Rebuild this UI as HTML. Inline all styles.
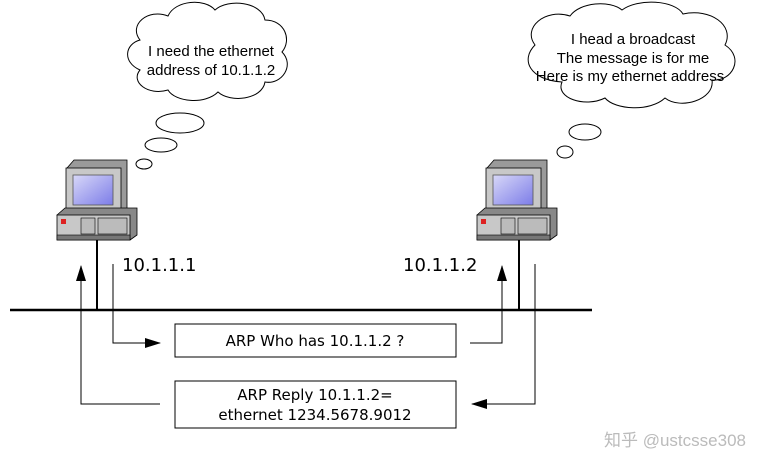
<!DOCTYPE html>
<html><head><meta charset="utf-8"><style>
body{margin:0;background:#fff;width:758px;height:473px;overflow:hidden}
svg{display:block}
text{font-family:"DejaVu Sans","Liberation Sans",sans-serif;fill:#000}
.c{font-family:"Liberation Sans",sans-serif}
</style></head><body>
<svg width="758" height="473" viewBox="0 0 758 473">
<defs>
<linearGradient id="scr" x1="0" y1="0" x2="1" y2="1"><stop offset="0" stop-color="#d8d8f8"/><stop offset="1" stop-color="#7c7ce8"/></linearGradient>
<marker id="ah" markerWidth="16" markerHeight="10" refX="15" refY="5" orient="auto" markerUnits="userSpaceOnUse">
<path d="M0,0 L16,5 L0,10 z" fill="#000"/></marker>
<g id="pc">
<path d="M10,8 L17,0 L70,0 L70,50 L62,55 Z" fill="#9a9a9a" stroke="#000" stroke-width="0.8"/>
<rect x="9" y="8" width="55" height="46" fill="#c8c8c8" stroke="#000" stroke-width="0.8"/>
<rect x="16" y="15" width="40" height="30" fill="url(#scr)" stroke="#555" stroke-width="0.8"/>
<rect x="53" y="48" width="3" height="3" fill="#2c2"/>
<path d="M0,55 L8,48 L80,48 L80,75 L73,80 Z" fill="#888" stroke="#000" stroke-width="0.8"/>
<rect x="0" y="55" width="73" height="25" fill="#c8c8c8" stroke="#000" stroke-width="0.8"/>
<rect x="4" y="59" width="5" height="5" fill="#d22"/>
<rect x="24" y="58" width="14" height="16" fill="#bbb" stroke="#000" stroke-width="0.6"/>
<rect x="41" y="58" width="29" height="16" fill="#bbb" stroke="#000" stroke-width="0.6"/>
<rect x="0" y="75" width="73" height="5" fill="#777" stroke="#000" stroke-width="0.6"/>
</g>
</defs>

<!-- left cloud -->
<path d="M140,40 C128,25 148,8 168,16 C175,0 205,-2 215,10 C228,-2 262,2 265,20 C285,20 292,40 282,52 C295,65 282,85 265,82 C262,100 230,103 218,92 C205,105 175,102 168,90 C148,96 130,82 140,70 C122,62 125,44 140,40 Z" fill="#fff" stroke="#000" stroke-width="1"/>
<text class="c" x="211" y="56" font-size="15" text-anchor="middle">I need the ethernet</text>
<text class="c" x="211" y="75" font-size="15" text-anchor="middle">address of 10.1.1.2</text>
<ellipse cx="180" cy="123" rx="24" ry="10" fill="#fff" stroke="#000"/>
<ellipse cx="161" cy="145" rx="16" ry="7" fill="#fff" stroke="#000"/>
<ellipse cx="144" cy="164" rx="8" ry="5" fill="#fff" stroke="#000"/>

<!-- right cloud -->
<path d="M535,45 C522,28 545,8 570,16 C580,2 610,0 622,10 C638,-2 675,0 683,14 C710,8 735,25 725,45 C745,58 732,82 712,80 C715,100 680,110 665,98 C650,112 615,110 605,98 C585,108 555,98 562,82 C530,80 520,60 535,45 Z" fill="#fff" stroke="#000" stroke-width="1"/>
<text class="c" x="633" y="44" font-size="15" text-anchor="middle">I head a broadcast</text>
<text class="c" x="633" y="63" font-size="15" text-anchor="middle">The message is for me</text>
<text class="c" x="630" y="81" font-size="15" text-anchor="middle">Here is my ethernet address</text>
<ellipse cx="585" cy="132" rx="16" ry="8" fill="#fff" stroke="#000"/>
<ellipse cx="565" cy="152" rx="8" ry="6" fill="#fff" stroke="#000"/>

<use href="#pc" x="57" y="160"/>
<use href="#pc" x="477" y="160"/>

<line x1="10" y1="310" x2="592" y2="310" stroke="#000" stroke-width="2.5"/>
<line x1="97" y1="240" x2="97" y2="310" stroke="#000" stroke-width="2"/>
<line x1="519" y1="240" x2="519" y2="310" stroke="#000" stroke-width="2"/>

<text x="122" y="271" font-size="18">10.1.1.1</text>
<text x="403" y="271" font-size="18">10.1.1.2</text>

<rect x="175" y="324" width="281" height="33" fill="#fff" stroke="#000"/>
<text x="315" y="346" font-size="15" text-anchor="middle">ARP Who has 10.1.1.2 ?</text>
<rect x="175" y="381" width="281" height="47" fill="#fff" stroke="#000"/>
<text x="315" y="400" font-size="15" text-anchor="middle">ARP Reply 10.1.1.2=</text>
<text x="315" y="420" font-size="15" text-anchor="middle">ethernet 1234.5678.9012</text>

<polyline points="113,264 113,343 160,343" fill="none" stroke="#000" marker-end="url(#ah)"/>
<polyline points="470,343 502,343 502,266" fill="none" stroke="#000" marker-end="url(#ah)"/>
<polyline points="535,264 535,404 472,404" fill="none" stroke="#000" marker-end="url(#ah)"/>
<polyline points="160,404 81,404 81,266" fill="none" stroke="#000" marker-end="url(#ah)"/>

<text x="604" y="446" font-size="17" style="fill:#bbb;font-family:'Liberation Sans','Noto Sans CJK SC',sans-serif">知乎 @ustcsse308</text>
</svg>
</body></html>
